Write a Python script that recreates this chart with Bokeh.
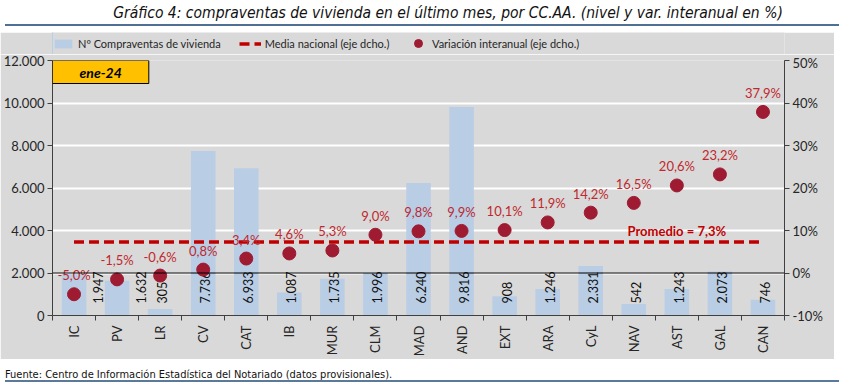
import numpy as np
from bokeh.plotting import figure
from bokeh.models import (ColumnDataSource, Range1d, LinearAxis, FixedTicker, Span,
                          Label, Legend, Div)
from bokeh.layouts import column
from bokeh.core.properties import value
from bokeh.embed import file_html
from bokeh.resources import INLINE

# ---------------- data ----------------
regions = ["IC", "PV", "LR", "CV", "CAT", "IB", "MUR", "CLM", "MAD", "AND",
           "EXT", "ARA", "CyL", "NAV", "AST", "GAL", "CAN"]
compraventas = [1947, 1632, 305, 7736, 6933, 1087, 1735, 1996, 6240, 9816,
                908, 1246, 2331, 542, 1243, 2073, 746]
var_interanual = [-5.0, -1.5, -0.6, 0.8, 3.4, 4.6, 5.3, 9.0, 9.8, 9.9,
                  10.1, 11.9, 14.2, 16.5, 20.6, 23.2, 37.9]
media_nacional = 7.3
left_ticks = [0, 2000, 4000, 6000, 8000, 10000, 12000]
right_ticks = [-10, 0, 10, 20, 30, 40, 50]
periodo = "ene-24"
titulo = "Gráfico 4: compraventas de vivienda en el último mes, por CC.AA. (nivel y var. interanual en %)"
fuente = "Fuente: Centro de Información Estadística del Notariado (datos provisionales)."
serie_barras = "Nº Compraventas de vivienda"
serie_media = "Media nacional (eje dcho.)"
serie_var = "Variación interanual (eje dcho.)"

# ---------------- styles ----------------
FONT = "Lato"
NARROW = "'Liberation Sans Narrow', 'DejaVu Sans Condensed', 'Roboto Condensed', 'Liberation Sans', sans-serif"
BAR = "#B9CDE5"
DOT = "#9E1B32"
RED = "#C00000"
LAB = "#C0282D"
GRAY = "#D9D9D9"
AX = "#404040"
BORDER_L, BORDER_R = 49, 50
# label nudges (pixels) for bar values hidden behind the dots
value_label_nudge = {"IC": 22, "PV": 22}

def miles(v):
    return f"{v:,}".replace(",", ".")

def pct(v):
    return f"{v:.1f}".replace(".", ",") + "%"

n = len(regions)
xs = list(range(n))
src = ColumnDataSource(dict(
    x=xs, region=regions, v=compraventas, vlab=[miles(v) for v in compraventas],
    pct=var_interanual, plab=[pct(v) for v in var_interanual],
    base=[0] * n, media=[media_nacional] * n,
    xoff=[2 + value_label_nudge.get(r, 0) for r in regions],
))

p = figure(width=834, height=305,
           x_range=Range1d(-0.5, n - 0.5),
           y_range=Range1d(left_ticks[0], left_ticks[-1]),
           output_backend="svg", toolbar_location=None,
           min_border_left=BORDER_L, min_border_right=BORDER_R, min_border_top=6,
           min_border_bottom=44,
           background_fill_color=GRAY, border_fill_color=GRAY, outline_line_color=None)
p.extra_y_ranges = {"pct": Range1d(right_ticks[0], right_ticks[-1])}

# grid
p.xgrid.visible = False
p.ygrid.grid_line_color = "white"
p.ygrid.grid_line_width = 2
p.ygrid.ticker = FixedTicker(ticks=left_ticks)

# x axis
xa = p.xaxis[0]
xa.ticker = FixedTicker(ticks=xs, minor_ticks=[i - 0.5 for i in range(n + 1)])
xa.major_label_overrides = {i: r for i, r in enumerate(regions)}
xa.major_label_orientation = np.pi / 2
xa.major_tick_out = 0
xa.major_tick_in = 0
xa.minor_tick_out = 5
xa.minor_tick_in = 0
xa.minor_tick_line_color = AX
xa.axis_line_color = AX
xa.major_label_standoff = 5
xa.major_label_text_font = FONT
xa.major_label_text_font_size = "13px"
xa.major_label_text_color = "#262626"

# left axis
ya = p.yaxis[0]
ya.ticker = FixedTicker(ticks=left_ticks)
ya.major_label_overrides = {t: miles(t) for t in left_ticks}
ya.major_tick_out = 5
ya.major_tick_in = 0
ya.minor_tick_line_color = None
ya.axis_line_color = AX
ya.major_tick_line_color = AX
ya.major_label_standoff = 3
ya.major_label_text_font = FONT
ya.major_label_text_font_size = "13px"
ya.major_label_text_color = "#262626"

# right axis
ra = LinearAxis(y_range_name="pct", ticker=FixedTicker(ticks=right_ticks))
ra.major_label_overrides = {t: f"{t}%" for t in right_ticks}
ra.major_tick_out = 5
ra.major_tick_in = 0
ra.minor_tick_line_color = None
ra.axis_line_color = AX
ra.major_tick_line_color = AX
ra.major_label_standoff = 3
ra.major_label_text_font = FONT
ra.major_label_text_font_size = "13px"
ra.major_label_text_color = "#262626"
p.add_layout(ra, "right")

bar_style = dict(fill_color=BAR, line_color=None)
line_style = dict(line_color=RED, line_width=3.5, line_dash="10 5")
dot_style = dict(size=13, fill_color=DOT, line_color=DOT)

# bars
p.vbar(x="x", top="v", width=0.57, source=src, **bar_style)

# zero line of the right axis
p.add_layout(Span(location=0, dimension="width", y_range_name="pct",
                  line_color="black", line_width=1.2))

# bar value labels
p.text(x="x", y="base", text="vlab", source=src, angle=np.pi / 2,
       text_align="left", text_baseline="middle", x_offset="xoff", y_offset=-12,
       text_font=value(FONT), text_font_size="12.5px", text_color="#111111")

# national mean dashed line (from the first to the last region)
p.line(x="x", y="media", source=src, y_range_name="pct", **line_style)

# dots
p.scatter(x="x", y="pct", source=src, y_range_name="pct", **dot_style)

# pct labels
p.text(x="x", y="pct", text="plab", source=src, y_range_name="pct",
       text_align="center", text_baseline="middle", y_offset=-19,
       text_font=value(FONT), text_font_size="13px", text_color=LAB)

# promedio label
p.add_layout(Label(x=regions.index("AST"), y=media_nacional, y_range_name="pct",
                   text="Promedio = " + pct(media_nacional), text_align="center",
                   text_baseline="middle", y_offset=11,
                   text_font=FONT, text_font_size="13px", text_font_style="bold",
                   text_color=RED))

# period box
p.add_layout(Label(x=-0.5, y=left_ticks[-1], text=periodo, text_align="left",
                   text_baseline="top", x_offset=0, y_offset=0,
                   padding=dict(top=3, bottom=3, left=27, right=27),
                   background_fill_color="#FFC000", border_line_color="black",
                   border_line_width=1,
                   text_font=FONT, text_font_size="14px", text_font_style="bold italic",
                   text_color="black"))

# ---------------- legend strip (separate figure above the chart) ----------------
# the strip shows the same series, but its x range lies outside the data, so only
# the legends are visible
lf = figure(width=834, height=22, x_range=Range1d(n + 100, n + 101), y_range=Range1d(0, 1),
            x_axis_location=None, y_axis_location=None,
            min_border_left=BORDER_L, min_border_right=BORDER_R,
            min_border_top=0, min_border_bottom=0,
            output_backend="svg", toolbar_location=None, outline_line_color=None,
            background_fill_color=GRAY, border_fill_color=GRAY)
lf.grid.visible = False
r_bar = lf.vbar(x="x", top="v", width=0.57, source=src, **bar_style)
r_line = lf.line(x="x", y="media", source=src, **line_style)
r_dot = lf.scatter(x="x", y="pct", source=src, **dot_style)

legend_text = dict(label_text_font=FONT, label_text_font_size="11px",
                   label_text_color="#262626", background_fill_alpha=0,
                   border_line_color=None, padding=0, margin=0, label_standoff=4,
                   orientation="horizontal")
legend1 = Legend(items=[(serie_barras, [r_bar]), (serie_media, [r_line])],
                 location=(0, 3), spacing=18, glyph_width=22, glyph_height=11,
                 label_height=16, **legend_text)
legend2 = Legend(items=[(serie_var, [r_dot])],
                 location=(356, 1), glyph_width=20, glyph_height=20,
                 label_height=20, **legend_text)
lf.add_layout(legend1)
lf.add_layout(legend2)

title_div = Div(text=(
    f'<div style="width:834px;height:21px;border-bottom:2px solid #4F6F95;'
    f'text-align:center;font-family:{NARROW};font-style:italic;font-size:15.5px;'
    f'line-height:17px;color:#111;white-space:nowrap;padding-left:52px;'
    f'box-sizing:border-box;">{titulo}</div>'),
    width=834, height=22)
foot_div = Div(text=(
    f'<div style="width:834px;height:18px;border-bottom:2px solid #5B7A99;'
    f'font-family:{NARROW};font-size:11px;line-height:14px;padding-top:4px;'
    f'box-sizing:border-box;color:#111;white-space:nowrap;">{fuente}</div>'),
    width=834, height=20)

layout = column(title_div, lf, p, foot_div, spacing=0)

open("out.html", "w").write(file_html(layout, INLINE))
